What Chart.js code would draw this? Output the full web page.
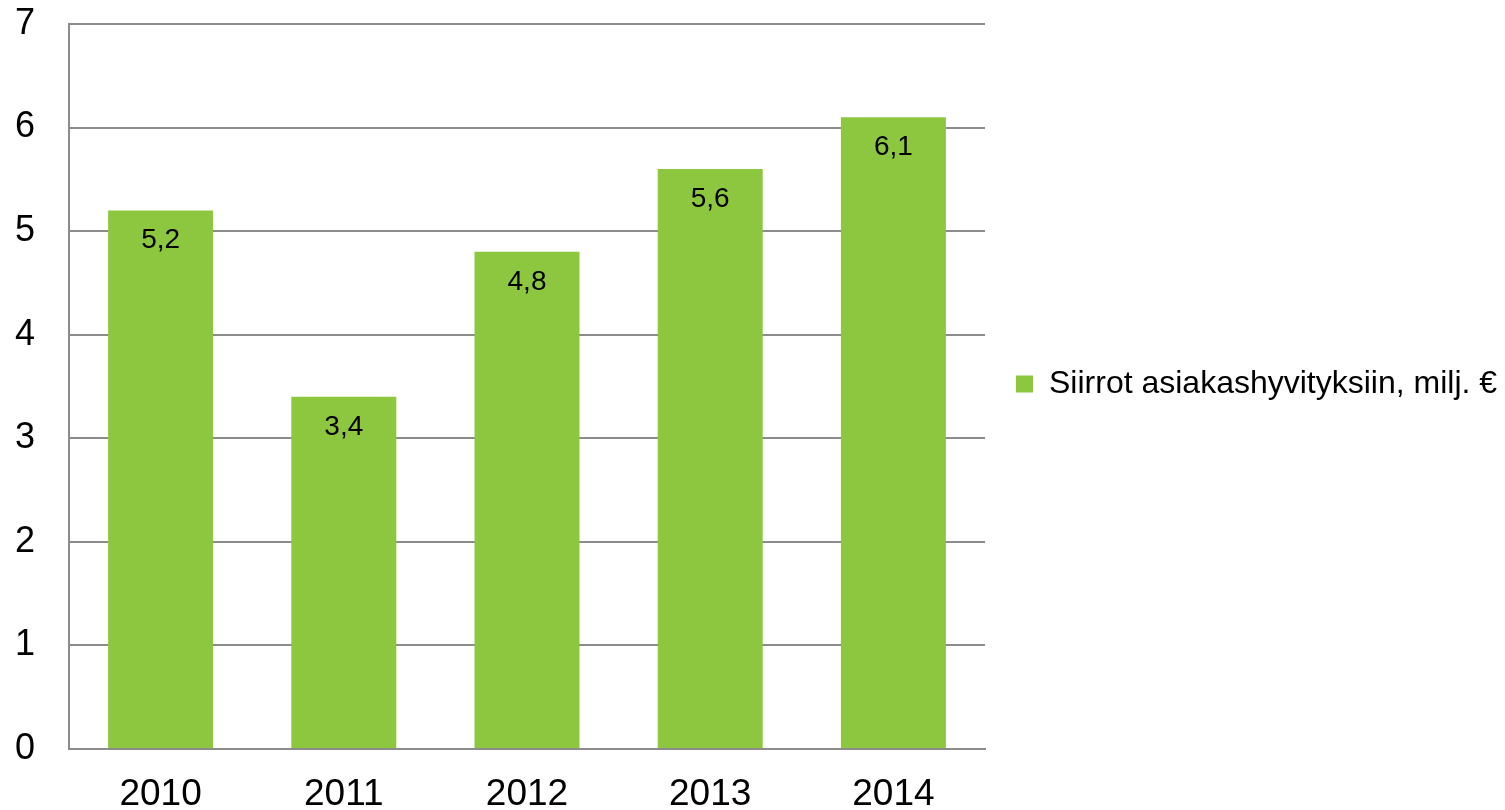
<!DOCTYPE html>
<html>
<head>
<meta charset="utf-8">
<script src="https://cdn.jsdelivr.net/npm/chart.js@4.4.0/dist/chart.umd.min.js"></script>
<style>
html,body{margin:0;padding:0;background:#fff;}
#wrap{width:1505px;height:810px;position:relative;}
</style>
</head>
<body>
<div id="wrap"><canvas id="c" width="1505" height="810"></canvas></div>
<script>
const categories = ['2010', '2011', '2012', '2013', '2014'];
const values = [5.2, 3.4, 4.8, 5.6, 6.1];
const seriesName = 'Siirrot asiakashyvityksiin, milj. €';
const yTicks = [0, 1, 2, 3, 4, 5, 6, 7];

const FONT = '"Liberation Sans", Arial, sans-serif';

const labelPlugin = {
  id: 'barLabels',
  afterDatasetsDraw(chart) {
    const ctx = chart.ctx;
    const meta = chart.getDatasetMeta(0);
    ctx.save();
    ctx.font = '28px ' + FONT;
    ctx.fillStyle = '#000';
    ctx.textAlign = 'center';
    ctx.textBaseline = 'middle';
    meta.data.forEach((bar, i) => {
      const txt = values[i].toFixed(1).replace('.', ',');
      ctx.fillText(txt, bar.x, bar.y + 30);
    });
    ctx.restore();
  }
};

const legendWidthPlugin = {
  id: 'legendWidth',
  afterInit(chart) {
    const lg = chart.legend;
    if (!lg || lg._patched) return;
    const orig = lg.fit.bind(lg);
    lg.fit = function () { orig(); this.width = 520; };
    lg._patched = true;
  },
  afterLayout(chart) {
    const lg = chart.legend;
    if (!lg) return;
    lg.top -= 21;
    lg.bottom -= 21;
  }
};

new Chart(document.getElementById('c'), {
  type: 'bar',
  data: {
    labels: categories,
    datasets: [{
      label: seriesName,
      data: values,
      backgroundColor: '#8dc63f',
      borderWidth: 0,
      barPercentage: 0.573,
      categoryPercentage: 1
    }]
  },
  options: {
    responsive: false,
    animation: false,
    devicePixelRatio: 1,
    layout: { padding: { top: 0, left: 0, right: 0, bottom: 0 } },
    plugins: {
      legend: {
        position: 'right',
        labels: {
          font: { family: FONT, size: 32 },
          color: '#000',
          boxWidth: 17,
          boxHeight: 17,
          padding: 31
        }
      },
      tooltip: { enabled: false }
    },
    scales: {
      x: {
        afterFit(axis) { axis.height = 61; },
        grid: { display: false, drawTicks: false },
        border: { display: true, color: '#8c8c8c', width: 2 },
        ticks: {
          font: { family: FONT, size: 37 },
          color: '#000',
          padding: 24
        }
      },
      y: {
        min: 0,
        max: 7,
        afterBuildTicks(axis) { axis.ticks = yTicks.map(v => ({ value: v })); },
        afterFit(axis) { axis.width = 69; axis.paddingTop = 24; axis.paddingBottom = 0; },
        grid: { color: '#8c8c8c', lineWidth: 2, drawTicks: false },
        border: { display: true, color: '#8c8c8c', width: 2 },
        ticks: {
          font: { family: FONT, size: 36 },
          color: '#000',
          padding: 34
        }
      }
    }
  },
  plugins: [legendWidthPlugin, labelPlugin]
});
</script>
</body>
</html>
